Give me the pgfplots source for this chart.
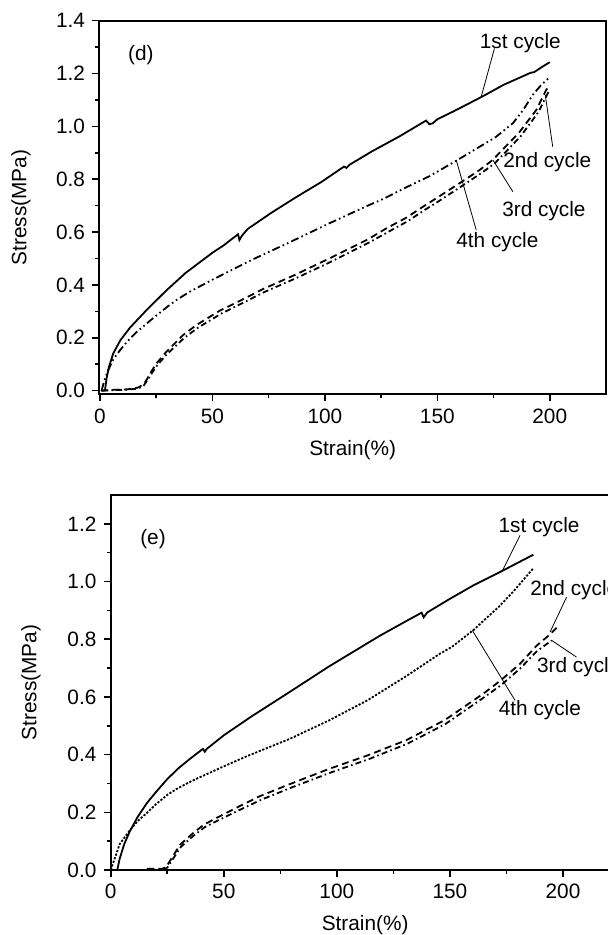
\documentclass[border=0pt]{standalone}
\usepackage{fontspec}
\setmainfont{Liberation Sans}
\usepackage{pgfplots}
\pgfplotsset{compat=1.18}
\tikzset{ptr/.style={black, line width=0.4pt}}
\begin{document}
\fontsize{10.4}{12}\selectfont
\begin{tikzpicture}
\useasboundingbox (0,0) rectangle (303.5pt,467.5pt);
\pgfplotsset{
  panel/.style={
    scale only axis, clip=false,
    axis line style={line width=1pt},
    tick style={black, line width=0.8pt},
    tick align=outside,
    xtick pos=left, ytick pos=left,
    major tick length=3.5pt, minor tick length=2pt,
    minor x tick num=1, minor y tick num=1,
    xtick={0,50,100,150,200},
    /pgf/number format/assume math mode=true,
    yticklabel style={/pgf/number format/.cd, fixed, fixed zerofill, precision=1},
    tick label style={font=\fontsize{10.4}{12}\selectfont},
    label style={font=\fontsize{10.4}{12}\selectfont},
    xlabel={Strain(\%)}, ylabel={Stress(MPa)},
    every axis x label/.style={at={(axis description cs:0.5,0)}, anchor=center, yshift=-27.7pt},
  },
  csolid/.style={black, line width=0.9pt},
  cdashdotdot/.style={black, line width=0.9pt, dash pattern=on 4pt off 1.6pt on 0.8pt off 1.6pt on 0.8pt off 1.6pt},
  cdashed/.style={black, line width=0.9pt, dash pattern=on 3.5pt off 2.2pt},
  cdashdot/.style={black, line width=0.9pt, dash pattern=on 3pt off 1.6pt on 0.8pt off 1.6pt},
  cdotted/.style={black, line width=0.9pt, dash pattern=on 1.1pt off 0.8pt},
}
% ---------------- panel (d) ----------------
\begin{axis}[panel,
  at={(49.65pt,270.35pt)}, anchor=south west,
  width=253.35pt, height=186.8pt,
  xmin=-0.3, xmax=225, ymin=-0.0136, ymax=1.4,
  ytick={0,0.2,0.4,0.6,0.8,1.0,1.2,1.4},
  every axis y label/.style={at={(axis description cs:-0.1545,0.5)}, rotate=90, anchor=center},
]
% 1st cycle
\addplot[csolid] coordinates {
(2.2,0) (3,0.05) (4,0.09) (5.9,0.141) (9,0.19) (13.3,0.238) (20.7,0.305)
(29.6,0.38) (38,0.445) (50,0.522) (55,0.55) (61.4,0.592) (62,0.57) (63,0.585)
(65.7,0.612) (76,0.672) (86.4,0.728) (98.5,0.79) (108.5,0.848) (109.6,0.843)
(111,0.855) (120.8,0.905) (132.9,0.961) (143,1.012) (145,1.022) (146.5,1.008)
(148,1.012) (150,1.027) (157,1.056) (170,1.113) (179.4,1.157) (191.5,1.203)
(193,1.205) (196,1.222) (200,1.243)};
% 4th cycle (upper dash-dot-dot)
\addplot[cdashdotdot] coordinates {
(0.7,0) (2,0.04) (3.7,0.078) (6,0.12) (8.9,0.153) (12,0.185) (16.3,0.222)
(23.7,0.275) (30,0.318) (34,0.343) (40,0.375) (50,0.42) (67.5,0.495)
(84.7,0.563) (101.9,0.633)
(119,0.7) (125.8,0.725) (136.3,0.77) (146.6,0.812) (158.4,0.87) (168.8,0.923)
(176,0.96) (183.6,1.012) (188,1.06) (192.5,1.12) (196,1.155) (199.8,1.185)};
% 2nd cycle (dashed)
\addplot[cdashed] coordinates {
(0.5,0) (5,0.003) (12,0.005) (17,0.012) (19.5,0.025) (21,0.045) (23,0.075)
(25.2,0.104) (29.6,0.148) (37,0.211) (43,0.249) (53.3,0.303) (62.2,0.34)
(72.6,0.385) (86.4,0.437) (101.9,0.5) (119,0.572) (127.3,0.614) (136.3,0.655)
(143.6,0.696) (148.4,0.722) (159.9,0.785) (168.8,0.835) (174.6,0.873)
(186.2,0.975) (194,1.062) (198.4,1.138) (200,1.155)};
% 3rd cycle (dash-dot)
\addplot[cdashdot] coordinates {
(1,0) (6,0.002) (12,0.004) (17,0.008) (19.5,0.02) (21.5,0.045) (23.5,0.072)
(25.5,0.097) (30,0.14) (37.5,0.2) (43.5,0.238) (54,0.292) (63,0.33)
(73,0.373) (87,0.425) (102.5,0.487) (119.5,0.56) (128,0.6) (137,0.642)
(144,0.682) (149,0.708) (160.5,0.772) (169.5,0.823) (175.5,0.86)
(187,0.962) (195,1.055) (198.8,1.12) (200,1.14)};
\node at (axis cs:18.2,1.27) {(d)};
\node at (axis cs:186.9,1.314) {1st cycle};
\draw[ptr] (axis cs:175.4,1.295) -- (axis cs:169.5,1.112);
\node at (axis cs:198.9,0.866) {2nd cycle};
\draw[ptr] (axis cs:201.3,0.923) -- (axis cs:198,1.119);
\node at (axis cs:197.4,0.681) {3rd cycle};
\draw[ptr] (axis cs:183.6,0.753) -- (axis cs:174.7,0.873);
\node at (axis cs:176.7,0.564) {4th cycle};
\draw[ptr] (axis cs:167.3,0.608) -- (axis cs:158.4,0.873);
\end{axis}
% ---------------- panel (e) ----------------
\begin{axis}[panel,
  at={(55.35pt,32.5pt)}, anchor=south west,
  width=254.4pt, height=187.5pt,
  xmin=0, xmax=225, ymin=0, ymax=1.3,
  ytick={0,0.2,0.4,0.6,0.8,1.0,1.2},
  every axis y label/.style={at={(axis description cs:-0.1566,0.5)}, rotate=90, anchor=center},
]
% 1st cycle
\addplot[csolid] coordinates {
(2.9,0) (4,0.04) (6,0.09) (8.5,0.135) (12,0.185) (16,0.232) (20,0.27)
(25,0.315) (30,0.353) (35,0.385) (40.8,0.42) (41.6,0.41) (42.5,0.42) (50.2,0.468)
(62.2,0.532) (79.3,0.618) (96.4,0.705) (113.5,0.786) (119,0.812) (130.7,0.863)
(137.5,0.892) (138.4,0.876) (140,0.893) (150,0.94) (160,0.985)
(172.9,1.036) (186.9,1.093)};
% 4th cycle (dotted)
\addplot[cdotted] coordinates {
(0,0) (2,0.045) (4,0.09) (8.5,0.138) (12,0.17) (16,0.198) (20,0.228) (25.3,0.262)
(30,0.285) (36.5,0.311) (50.2,0.36) (60.4,0.395) (79.3,0.455) (96.4,0.518) (113.5,0.588)
(130.7,0.672) (145.6,0.75) (150.8,0.773) (160.3,0.831) (171.7,0.913)
(178,0.965) (186.9,1.046)};
% 2nd cycle (dashed)
\addplot[cdashed] coordinates {
(16,0.004) (22.7,0.004) (24.5,0.01) (30.6,0.087) (36,0.125) (41,0.156)
(46.9,0.181) (57.2,0.222) (66,0.256) (79.3,0.298) (96.4,0.35) (113.5,0.397)
(130.7,0.45) (147.8,0.52) (164.9,0.612) (172.1,0.655) (180.9,0.714)
(188.4,0.778) (194,0.815) (197.2,0.84)};
% 3rd cycle (dash-dot)
\addplot[cdashdot] coordinates {
(17,0.002) (23,0.002) (25,0.008) (31,0.08) (36.5,0.118) (41.5,0.148)
(47.5,0.172) (58,0.212) (67,0.245) (80,0.286) (97,0.337) (114,0.384)
(131,0.437) (148,0.506) (165,0.598) (172.5,0.64) (181,0.698)
(188.4,0.758) (195,0.796)};
\node at (axis cs:18.7,1.148) {(e)};
\node at (axis cs:189.4,1.19) {1st cycle};
\draw[ptr] (axis cs:181,1.16) -- (axis cs:172.9,1.033);
\node[anchor=west, inner sep=0pt] at (axis cs:185.4,0.969) {2nd cycle};
\draw[ptr] (axis cs:201.6,0.946) -- (axis cs:194.3,0.825);
\node[anchor=west, inner sep=0pt] at (axis cs:188.4,0.704) {3rd cycle};
\draw[ptr] (axis cs:206,0.738) -- (axis cs:195,0.796);
\node at (axis cs:189.8,0.554) {4th cycle};
\draw[ptr] (axis cs:178.8,0.588) -- (axis cs:159.9,0.831);
\end{axis}
\end{tikzpicture}
\end{document}
